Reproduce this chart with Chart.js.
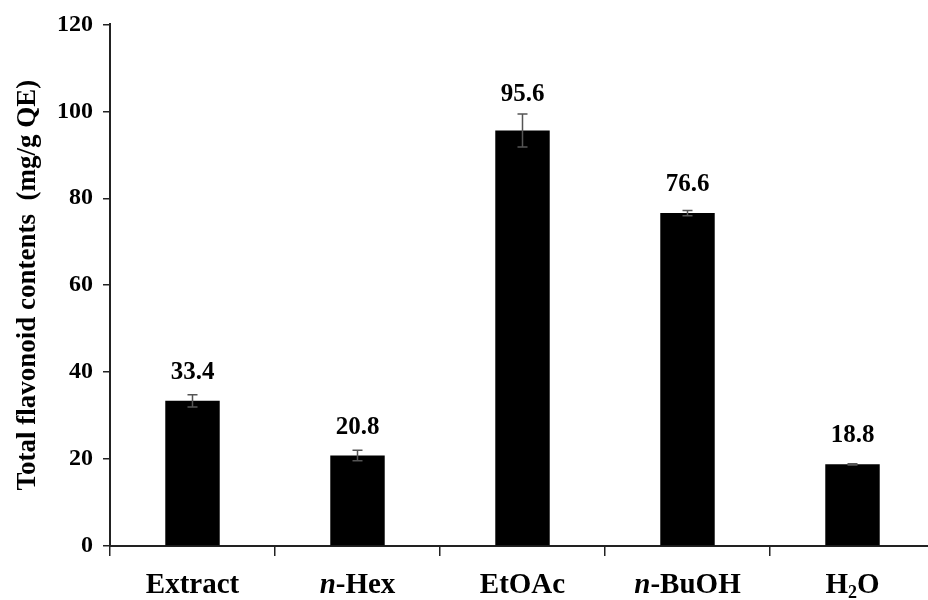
<!DOCTYPE html>
<html>
<head>
<meta charset="utf-8">
<script src="https://cdn.jsdelivr.net/npm/chart.js@4"></script>
<style>
  html, body { margin: 0; padding: 0; background: #fff; overflow: hidden; }
</style>
</head>
<body>
<canvas id="chart" width="940" height="600"></canvas>
<script>
// 数据
const categories = ['Extract', 'n-Hex', 'EtOAc', 'n-BuOH', 'H2O'];
const flavonoidValues = [33.4, 20.8, 95.6, 76.6, 18.8];
const flavonoidErrors = [1.4, 1.2, 3.8, 0.6, 0.15];
const yTicks = [0, 20, 40, 60, 80, 100, 120];
const yTitle = 'Total flavonoid contents  (mg/g QE)';

const SERIF = "'Liberation Serif', 'Times New Roman', serif";

// 误差线 + 数值标签
const errorBarPlugin = {
    id: 'errorBars',
    afterDatasetsDraw(chart) {
        const ctx = chart.ctx;
        const y = chart.scales.y;
        const bars = chart.getDatasetMeta(0).data;
        ctx.save();
        ctx.strokeStyle = '#555';
        ctx.lineWidth = 1.5;
        bars.forEach((bar, i) => {
            const v = flavonoidValues[i], e = flavonoidErrors[i];
            const top = y.getPixelForValue(v + e);
            const bot = y.getPixelForValue(v - e);
            ctx.beginPath();
            ctx.moveTo(bar.x, top); ctx.lineTo(bar.x, bot);
            ctx.moveTo(bar.x - 5, top); ctx.lineTo(bar.x + 5, top);
            ctx.moveTo(bar.x - 5, bot); ctx.lineTo(bar.x + 5, bot);
            ctx.stroke();
        });
        ctx.fillStyle = '#000';
        ctx.font = 'bold 25px ' + SERIF;
        ctx.textAlign = 'center';
        ctx.textBaseline = 'alphabetic';
        bars.forEach((bar, i) => {
            const v = flavonoidValues[i], e = flavonoidErrors[i];
            const errTop = y.getPixelForValue(v + e);
            const base = Math.min(bar.y - 22, errTop - 13);
            ctx.fillText(v.toFixed(1), bar.x, base);
        });
        ctx.restore();
    }
};

// 辅助函数：把标签拆成斜体 n / 下标数字
function labelRuns(label) {
    const runs = [];
    let rest = label;
    if (rest.startsWith('n-')) {
        runs.push({ t: 'n', style: 'italic' });
        rest = rest.slice(1);
    }
    const parts = rest.split(/(\d+)/).filter(p => p);
    parts.forEach(p => runs.push({ t: p, sub: /^\d+$/.test(p) }));
    return runs;
}

// x 轴标签
const xLabelPlugin = {
    id: 'xLabels',
    afterDraw(chart) {
        const ctx = chart.ctx;
        const x = chart.scales.x;
        const size = 29;
        const baseY = x.top + 47;
        ctx.save();
        ctx.fillStyle = '#000';
        ctx.textBaseline = 'alphabetic';
        ctx.textAlign = 'left';
        categories.forEach((label, i) => {
            const runs = labelRuns(label);
            const fontFor = r => (r.style === 'italic' ? 'italic ' : '') + 'bold ' +
                (r.sub ? Math.round(size * 0.62) : size) + 'px ' + SERIF;
            let total = 0;
            runs.forEach(r => { ctx.font = fontFor(r); r.w = ctx.measureText(r.t).width; total += r.w; });
            let cx = x.getPixelForTick(i) - total / 2;
            runs.forEach(r => {
                ctx.font = fontFor(r);
                ctx.fillText(r.t, cx, r.sub ? baseY + 5 : baseY);
                cx += r.w;
            });
        });
        ctx.restore();
    }
};

const ctx = document.getElementById('chart').getContext('2d');
new Chart(ctx, {
    type: 'bar',
    data: {
        labels: categories,
        datasets: [{
            data: flavonoidValues,
            backgroundColor: '#000',
            borderColor: '#000',
            borderWidth: 0,
            barPercentage: 0.33,
            categoryPercentage: 1
        }]
    },
    options: {
        responsive: false,
        animation: false,
        layout: { padding: { top: 20, right: 5, left: 0, bottom: 0 } },
        plugins: {
            legend: { display: false },
            tooltip: { enabled: false }
        },
        scales: {
            x: {
                offset: true,
                grid: { offset: true, drawOnChartArea: false, drawTicks: true, tickLength: 10, color: '#222', lineWidth: 1.5 },
                border: { display: true, color: '#222', width: 2 },
                ticks: { display: false },
                afterFit(scale) { scale.height = 54; }
            },
            y: {
                min: 0,
                max: 120,
                afterBuildTicks(scale) { scale.ticks = yTicks.map(v => ({ value: v })); },
                grid: { drawOnChartArea: false, drawTicks: true, tickLength: 7, color: '#222', lineWidth: 1.5 },
                border: { display: true, color: '#222', width: 2 },
                ticks: {
                    color: '#000',
                    padding: 10,
                    font: { family: SERIF, size: 24, weight: 'bold' }
                },
                title: {
                    display: true,
                    text: yTitle,
                    color: '#000',
                    font: { family: SERIF, size: 27, weight: 'bold' },
                    padding: { top: 12, bottom: 0 }
                },
                afterFit(scale) { scale.width = 110; }
            }
        }
    },
    plugins: [errorBarPlugin, xLabelPlugin]
});
</script>
</body>
</html>
